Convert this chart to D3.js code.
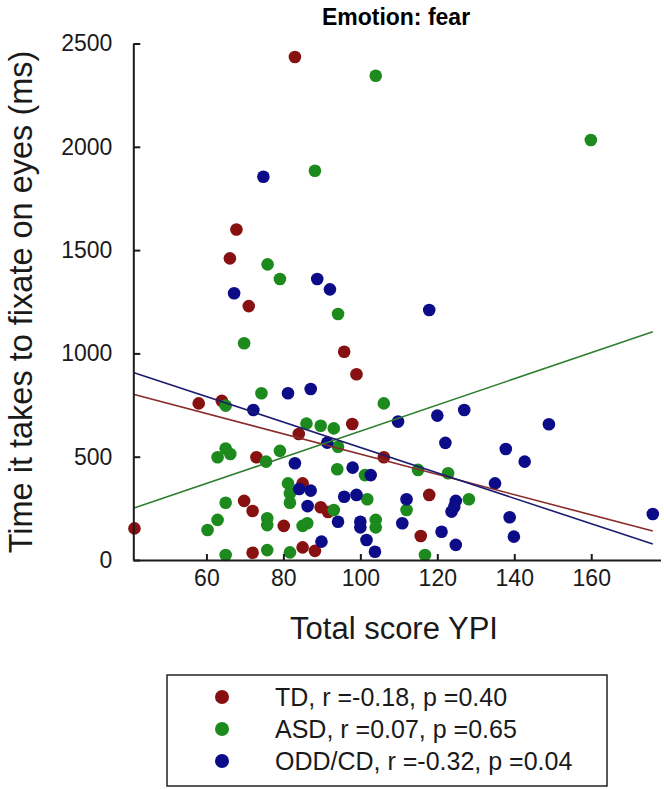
<!DOCTYPE html>
<html>
<head>
<meta charset="utf-8">
<script src="https://cdn.jsdelivr.net/npm/d3@7"></script>
<style>
  body { margin: 0; background: #fff; }
  svg { display: block; font-family: "Liberation Sans", Arial, sans-serif; }
</style>
</head>
<body>
<script>
// YPI score vs time to fixate (ms)
const tdPoints = [
  [83, 2435], [67.8, 1600], [66.1, 1460], [71, 1229], [58, 758], [64, 770],
  [84, 610], [73, 497], [95.8, 1008], [99, 899], [97.9, 658], [106.1, 497],
  [41.3, 153], [69.8, 286], [72, 237], [72, 35], [85, 371], [89.7, 255],
  [91.6, 232], [80.1, 165], [85, 61], [88.2, 44], [117.9, 315], [115.7, 116]
];
const asdPoints = [
  [104, 2344], [159.9, 2033], [88.2, 1884], [75.9, 1431], [79.1, 1360], [94.2, 1191],
  [69.8, 1049], [74.3, 807], [106.1, 758], [65, 747], [86, 660], [89.7, 650],
  [93.1, 637], [62.9, 497], [65, 540], [66.2, 513], [75.5, 476], [79.1, 528],
  [94.2, 548], [94, 439], [101.2, 411], [81.2, 371], [81.7, 323], [81.7, 277],
  [93.1, 242], [65, 277], [62.9, 194], [60.3, 145], [65, 24], [75.8, 202],
  [75.8, 169], [85, 165], [86.2, 178], [101.8, 294], [104, 194], [104, 158],
  [75.8, 48], [81.7, 37], [115, 436], [122.8, 420], [128.2, 294], [112, 242],
  [116.8, 24]
];
const oddPoints = [
  [74.8, 1855], [88.8, 1360], [92.1, 1310], [117.9, 1210], [67.2, 1291], [87.1, 828],
  [81.2, 807], [72.2, 726], [109.8, 670], [120, 699], [127, 726], [149, 657],
  [91.4, 568], [122.1, 567], [137.8, 537], [142.7, 476], [83, 468], [98, 447],
  [102.7, 411], [135, 371], [84.1, 344], [87.1, 336], [86.3, 261], [95.8, 306],
  [99, 315], [94.2, 185], [100, 185], [100, 158], [89.9, 89], [101.6, 97],
  [103.8, 40], [112, 294], [124.8, 286], [124.4, 258], [123.7, 234], [110.9, 178],
  [138.8, 207], [121.1, 137], [139.9, 113], [124.8, 73], [176, 223]
];

// regression lines: [x0, y0, x1, y1]
const tdFit = [41, 802, 176, 140];
const asdFit = [41, 250, 176, 1105];
const oddFit = [41, 908, 176, 77];

const groupNames = ['TD', 'ASD', 'ODD/CD'];
const legendLabels = ['TD, r =-0.18, p =0.40', 'ASD, r =0.07, p =0.65', 'ODD/CD, r =-0.32, p =0.04'];
const xTicks = [60, 80, 100, 120, 140, 160];
const yTicks = [0, 500, 1000, 1500, 2000, 2500];

const colors = { 'TD': '#871010', 'ASD': '#1c8a1c', 'ODD/CD': '#0c0c88' };
const lineColors = { 'TD': '#8a2a2a', 'ASD': '#2f7f2f', 'ODD/CD': '#1c1c70' };

const groups = [
  { name: 'TD', pts: tdPoints, fit: tdFit },
  { name: 'ASD', pts: asdPoints, fit: asdFit },
  { name: 'ODD/CD', pts: oddPoints, fit: oddFit }
];

const width = 664;
const height = 789;

const x = d3.scaleLinear().domain([41, 178]).range([133.3, 660.5]);
const y = d3.scaleLinear().domain([0, 2500]).range([560, 43.5]);

const svg = d3.select('body').append('svg')
  .attr('width', width)
  .attr('height', height);

// title
svg.append('text')
  .attr('x', 396)
  .attr('y', 25)
  .attr('text-anchor', 'middle')
  .style('font-weight', 'bold')
  .style('font-size', '23px')
  .text('Emotion: fear');

// points (drawn in group order)
groups.forEach((g) => {
  svg.append('g')
    .selectAll('circle')
    .data(g.pts)
    .enter()
    .append('circle')
    .attr('cx', (d) => x(d[0]))
    .attr('cy', (d) => y(d[1]))
    .attr('r', 6.3)
    .style('fill', colors[g.name]);
});

// fit lines
groups.forEach((g) => {
  svg.append('line')
    .attr('x1', x(g.fit[0]))
    .attr('y1', y(g.fit[1]))
    .attr('x2', x(g.fit[2]))
    .attr('y2', y(g.fit[3]))
    .style('stroke', lineColors[g.name])
    .style('stroke-width', 1.6);
});

const xAxis = d3.axisBottom(x)
  .tickValues(xTicks)
  .tickFormat(d3.format('d'))
  .tickSizeInner(-6)
  .tickSizeOuter(0)
  .tickPadding(10);

const yAxis = d3.axisLeft(y)
  .tickValues(yTicks)
  .tickFormat(d3.format('d'))
  .tickSizeInner(-7)
  .tickSizeOuter(0)
  .tickPadding(21);

const gx = svg.append('g')
  .attr('transform', 'translate(0,' + y(0) + ')')
  .call(xAxis);

const gy = svg.append('g')
  .attr('transform', 'translate(' + x(41) + ',0)')
  .call(yAxis);

[gx, gy].forEach((g) => {
  g.selectAll('path, line').style('stroke', '#1a1a1a').style('stroke-width', 2);
  g.selectAll('text')
    .style('font-family', '"Liberation Sans Narrow", "Arial Narrow", "Liberation Sans", sans-serif')
    .style('font-size', '23px')
    .style('fill', '#1a1a1a');
});

// axis titles
svg.append('text')
  .attr('x', 394)
  .attr('y', 639)
  .attr('text-anchor', 'middle')
  .style('font-size', '31px')
  .style('fill', '#1a1a1a')
  .text('Total score YPI');

svg.append('text')
  .attr('transform', 'translate(32,302) rotate(-90)')
  .attr('text-anchor', 'middle')
  .style('font-size', '32.5px')
  .style('fill', '#1a1a1a')
  .text('Time it takes to fixate on eyes (ms)');

// legend
const legend = svg.append('g');
legend.append('rect')
  .attr('x', 167)
  .attr('y', 675)
  .attr('width', 440)
  .attr('height', 111)
  .style('fill', 'none')
  .style('stroke', '#222')
  .style('stroke-width', 1.5);

const rows = legend.selectAll('g.row')
  .data(groupNames)
  .enter()
  .append('g')
  .attr('class', 'row')
  .attr('transform', (d, i) => 'translate(0,' + (697 + i * 32) + ')');

rows.append('circle')
  .attr('cx', 222)
  .attr('cy', 0)
  .attr('r', 7)
  .style('fill', (d) => colors[d]);

rows.append('text')
  .attr('x', 275)
  .attr('y', 8.5)
  .style('font-size', '25px')
  .style('fill', '#1a1a1a')
  .text((d, i) => legendLabels[i]);
</script>
</body>
</html>
